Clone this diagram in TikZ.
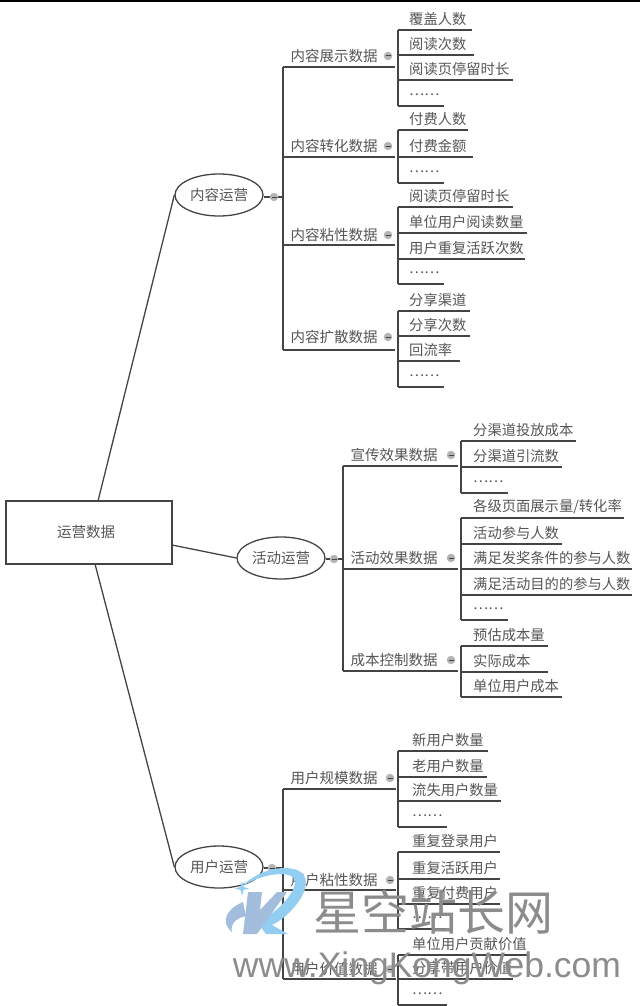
\documentclass[tikz,border=0pt]{standalone}
\usepackage{fontspec}
\setmainfont{Noto Sans CJK SC}
\newfontfamily\markfont{Liberation Sans}
\usetikzlibrary{shapes.geometric}
\definecolor{inkgray}{HTML}{444444}
\definecolor{txtgray}{HTML}{555555}
\definecolor{dotgray}{HTML}{B4B4B4}
\definecolor{markgray}{HTML}{8C8C8C}
\definecolor{logoblue}{HTML}{A3BEDC}
\definecolor{logosky}{HTML}{92CDF2}
\tikzset{
  conn/.style={draw=inkgray,line width=1.3pt},
  rootbox/.style={draw=inkgray,line width=1.3pt,minimum width=166pt,minimum height=63pt,inner sep=0pt,text=txtgray,font=\fontsize{14.5}{17}\selectfont},
  topic/.style={draw=inkgray,line width=1.3pt,ellipse,minimum width=88pt,minimum height=42pt,inner sep=0pt,text=txtgray,font=\fontsize{14.5}{17}\selectfont},
  group/.style={anchor=center,inner sep=0pt,text=txtgray,font=\fontsize{14.5}{17}\selectfont},
  leaf/.style={anchor=west,inner sep=0pt,text=txtgray,font=\fontsize{14.3}{17}\selectfont},
  fold/.style={circle,fill=dotgray,minimum size=8.5pt,inner sep=0pt},
}
\begin{document}
\begin{tikzpicture}[x=1pt,y=-1pt]
  \useasboundingbox (0,0) rectangle (640,1006);
  \fill [black] (0,0) rectangle (640,2.5);

  % Root and the three topics
  \node [rootbox] (root) at (89,532.5) {\hspace*{-6pt}运营数据};
  \node [topic] (content) at (219,195) {内容运营};
  \node [topic] (activity) at (281,558) {活动运营};
  \node [topic] (user) at (219,867) {用户运营};
  \coordinate (roota) at (98,501);
  \coordinate (rootb) at (172,545);
  \coordinate (rootc) at (95,564);
  \draw [conn] (roota) -- (content.west);
  \draw [conn] (rootb) -- (activity.west);
  \draw [conn] (rootc) -- (user.west);

  % Topic to group spine: name/topic/spine x/top y/bottom y/dot x/dot y
  \foreach \name/\topic/\sx/\ya/\yb/\dx/\dy in {
      cs/content/283/67/350/274/197,
      as/activity/343/466/671/334/559,
      us/user/283/789/979/272/868} {
    \coordinate (\name top) at (\sx,\ya);
    \coordinate (\name bot) at (\sx,\yb);
    \coordinate (\name mid) at (\sx,\dy);
    \draw [conn] (\name top) -- (\name bot);
    \draw [conn] (\topic.east |- \name mid) -- (\name mid);
    \node [fold] (\name dot) at (\dx,\dy) {};
    \draw [inkgray,line width=1pt] (\dx-2.5,\dy) -- (\dx+2.5,\dy);
  }

  % Group labels: name/text/label x/label y/dot x/line y/spine/end x
  \foreach \name/\txt/\lx/\ly/\dx/\lb/\sp/\ex in {
      g1/内容展示数据/334/56/388/67/cs/395,
      g2/内容转化数据/334/146/388/157/cs/395,
      g3/内容粘性数据/334/235/388/245/cs/395,
      g4/内容扩散数据/334/337/388/350/cs/395,
      g5/宣传效果数据/394/455/451/466/as/458,
      g6/活动效果数据/394/558/451/569/as/458,
      g7/成本控制数据/394/660/451/671/as/458,
      g8/用户规模数据/334/778/390/789/us/396,
      g9/用户粘性数据/334/880/390/890/us/396,
      g10/用户价值数据/334/969/390/979/us/396} {
    \node [group] (\name) at (\lx,\ly) {\txt};
    \node [fold] (\name dot) at (\dx,\ly) {};
    \draw [inkgray,line width=1pt] (\dx-2.5,\ly) -- (\dx+2.5,\ly);
    \coordinate (\name end) at (\ex,\lb);
    \draw [conn] (\sp top |- \name end) -- (\name end);
  }

  % Leaf spines: x/top y/bottom y
  \foreach \sx/\ya/\yb in {
      398/30/106, 398/130/183, 398/207/284, 398/311/387,
      461/441/493, 461/518/620, 461/646/697,
      398/751/827, 398/852/929, 398/955/1005} {
    \coordinate (ltop) at (\sx,\ya);
    \coordinate (lbot) at (\sx,\yb);
    \draw [conn] (ltop) -- (lbot);
  }

  % Leaves: text/text x/line y/spine x/end x
  \foreach \txt/\lx/\ly/\sx/\ex [count=\i] in {
      覆盖人数/409/30/398/472, 阅读次数/409/55/398/474, 阅读页停留时长/409/80/398/513, ……/409/106/398/444,
      付费人数/409/130/398/468, 付费金额/409/157/398/473, ……/409/183/398/444,
      阅读页停留时长/409/207/398/513, 单位用户阅读数量/409/233/398/527, 用户重复活跃次数/409/259/398/525, ……/409/284/398/444,
      分享渠道/409/311/398/470, 分享次数/409/336/398/470, 回流率/409/361/398/460, ……/409/387/398/444,
      分渠道投放成本/473/441/461/576, 分渠道引流数/473/467/461/562, ……/473/493/461/508,
      {各级页面展示量/转化率}/473/518/461/624, 活动参与人数/473/544/461/562, 满足发奖条件的参与人数/473/569/461/632, 满足活动目的的参与人数/473/595/461/632, ……/473/620/461/508,
      预估成本量/473/646/461/548, 实际成本/473/672/461/548, 单位用户成本/473/697/461/562,
      新用户数量/412/751/398/488, 老用户数量/412/777/398/487, 流失用户数量/412/801/398/501, ……/412/827/398/447,
      重复登录用户/412/852/398/500, 重复活跃用户/412/879/398/500, 重复付费用户/412/904/398/500, ……/412/929/398/447,
      单位用户贡献价值/412/955/398/527, 分享带用户价值/412/979/398/513, ……/412/1005/398/447} {
    \node [leaf] (leaf\i) at (\lx,\ly-11) {\txt};
    \coordinate (leaf\i a) at (\sx,\ly);
    \coordinate (leaf\i b) at (\ex,\ly);
    \draw [conn] (leaf\i a) -- (leaf\i b);
  }

  % Watermark
  \fill [logosky] (240,888) .. controls (255,872) and (280,864) .. (297,870) .. controls (310,875) and (308,890) .. (296,905) .. controls (288,915) and (280,921) .. (272,925) -- (288,934) -- (266,934) -- (257,922) .. controls (275,915) and (296,893) .. (295,881) .. controls (294,870) and (262,872) .. (240,888) -- cycle;
  \fill [logosky] (242,881) -- (243.5,887) -- (249,888.5) -- (243.5,890) -- (242,896) -- (240.5,890) -- (235,888.5) -- (240.5,887) -- cycle;
  \fill [logoblue] (248,892) -- (262,892) -- (260,910) -- (277,892) -- (287,892) -- (257,934) -- (243,934) -- cycle;
  \fill [logoblue] (243,902) .. controls (226,909) and (220,922) .. (232,932) .. controls (230,924) and (236,918) .. (246,916) -- cycle;
  \node [inner sep=0pt,text=markgray,font=\fontsize{48}{50}\selectfont] (markcn) at (433,912) {星空站长网};
  \node [inner sep=0pt,text=markgray,font=\markfont\fontsize{35.5}{38}\selectfont] (markurl) at (427,968) {www.XingKongWeb.com};
\end{tikzpicture}
\end{document}
